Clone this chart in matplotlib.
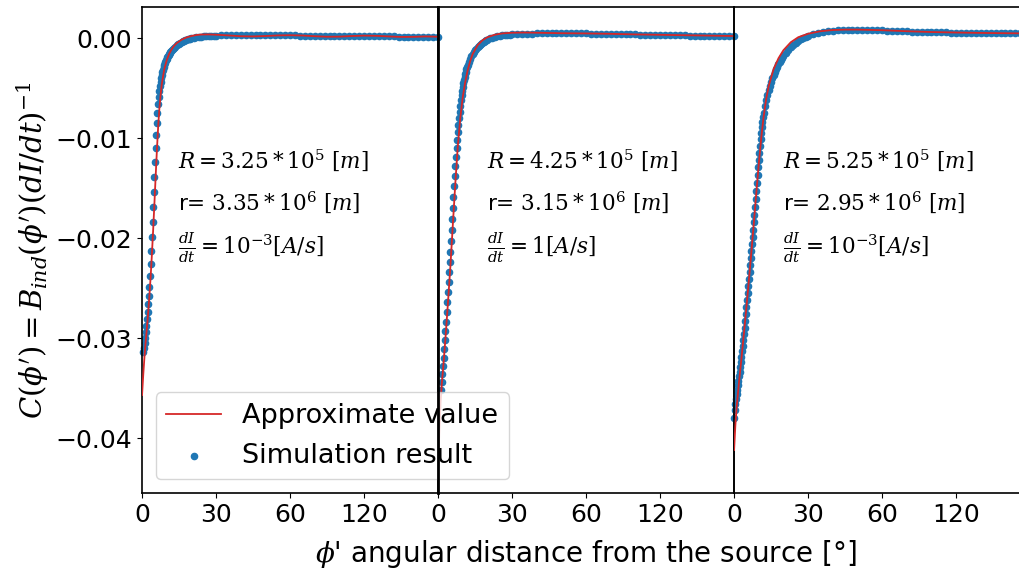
import numpy as np
import matplotlib
matplotlib.use("Agg")
import matplotlib.pyplot as plt
from matplotlib.lines import Line2D

plt.rcParams['mathtext.fontset'] = 'dejavuserif'

nan = np.nan
# sample positions of the simulation (degrees)
phi_sim = np.concatenate([np.arange(0, 12.01, 0.25), np.arange(12.5, 20.01, 0.5),
                          np.arange(21, 30.01, 1), np.arange(32, 120.01, 2)])

# simulation results (units of 1e-3)
sim1 = [nan, nan, -31.4, -31.0, -30.5, -30.0, -29.4, -28.8, -28.1, -27.4, -26.6, -25.8,
        -24.9, -23.8, -22.6, -21.3, -19.9, -18.4, -16.9, -15.4, -13.9, -12.4, -11.0, -9.7,
        -8.5, -7.5, -6.6, -5.9, -5.3, -4.8, -4.4, -4.0, -3.7, -3.4, -3.15, -2.9,
        -2.7, -2.5, -2.35, -2.2, -2.05, -1.9, -1.8, -1.7, -1.6, -1.5, -1.4, -1.3, -1.22,
        -1.08, -0.95, -0.83, -0.72, -0.62, -0.53, -0.45, -0.38, -0.31, -0.25, -0.2, -0.15,
        -0.11, -0.07, -0.04, -0.01,
        0.04, 0.08, 0.12, 0.15, 0.18, 0.2, 0.22, 0.24, 0.25, 0.26,
        0.28, 0.29, 0.3, 0.31, 0.31, 0.31, 0.31, 0.31, 0.31, 0.3, 0.3, 0.3, 0.29, 0.29, 0.28,
        0.28, 0.27, 0.27, 0.26, 0.26, 0.25, 0.25, 0.24, 0.24, 0.23, 0.23, 0.22, 0.22, 0.21,
        0.21, 0.2, 0.2, 0.19, 0.19, 0.18, 0.18, 0.17, 0.17, 0.16, 0.16, 0.15, 0.15, 0.14,
        0.14, 0.13]
sim2 = [nan, nan, nan, nan, nan, -35.2, -34.4, -33.6, -32.8, -32.0, -31.1, -30.2,
        -29.3, -28.4, -27.4, -26.4, -25.4, -24.4, -23.4, -22.4, -21.4, -20.3, -19.2, -18.1,
        -17.0, -15.9, -14.8, -13.8, -12.8, -11.9, -11.0, -10.2, -9.4, -8.7, -8.0, -7.35,
        -6.75, -6.2, -5.7, -5.25, -4.85, -4.5, -4.15, -3.85, -3.6, -3.35, -3.1, -2.9, -2.7,
        -2.35, -2.05, -1.8, -1.58, -1.38, -1.2, -1.04, -0.9, -0.77, -0.65, -0.54, -0.44,
        -0.35, -0.27, -0.2, -0.13,
        -0.02, 0.07, 0.14, 0.2, 0.25, 0.29, 0.32, 0.35, 0.37, 0.39,
        0.42, 0.44, 0.46, 0.47, 0.48, 0.49, 0.49, 0.5, 0.5, 0.5, 0.5, 0.49, 0.49, 0.48, 0.48,
        0.47, 0.46, 0.45, 0.44, 0.43, 0.42, 0.41, 0.4, 0.39, 0.38, 0.37, 0.36, 0.35, 0.34,
        0.33, 0.32, 0.31, 0.3, 0.29, 0.28, 0.27, 0.26, 0.25, 0.25, 0.24, 0.23, 0.22, 0.22,
        0.21, 0.2]
sim3 = [-38.0, -37.2, -36.6, -36.1, -35.6, -35.2, -34.7, -34.3, -33.8, -33.4, -32.9, -32.4,
        -31.9, -31.3, -30.8, -30.2, -29.6, -29.0, -28.3, -27.6, -26.9, -26.2, -25.5, -24.8,
        -24.1, -23.4, -22.7, -22.0, -21.3, -20.6, -19.9, -19.2, -18.4, -17.7, -16.9, -16.1,
        -15.3, -14.5, -13.7, -12.9, -12.2, -11.5, -10.8, -10.1, -9.5, -8.9, -8.4, -7.9, -7.5,
        -6.8, -6.2, -5.7, -5.2, -4.8, -4.4, -4.0, -3.7, -3.4, -3.1, -2.85, -2.6,
        -2.38, -2.17, -1.97, -1.78,
        -1.45, -1.15, -0.88, -0.64, -0.43, -0.25, -0.09, 0.05, 0.17, 0.27,
        0.43, 0.55, 0.64, 0.71, 0.76, 0.8, 0.82, 0.84, 0.85, 0.85, 0.84, 0.83, 0.82, 0.8, 0.78,
        0.76, 0.74, 0.72, 0.7, 0.68, 0.66, 0.65, 0.63, 0.62, 0.61, 0.6, 0.59, 0.58, 0.57,
        0.56, 0.55, 0.55, 0.54, 0.54, 0.53, 0.53, 0.52, 0.52, 0.52, 0.51, 0.51, 0.5, 0.5,
        0.5, 0.5]

# approximate value curves (units of 1e-3)
phi_apx1 = [0, 0.5, 1, 1.5, 2, 2.5, 3, 3.5, 4, 4.5, 5, 5.5, 6, 6.5, 7, 7.5, 8, 9, 10, 11, 12,
            13, 14, 16, 18, 20, 22, 24, 27, 30, 35, 40, 45, 50, 55, 60, 65, 70, 75, 80, 85,
            90, 95, 100, 105, 110, 115, 120]
apx1 = [-35.7, -33.6, -31.8, -30.3, -28.9, -27.4, -25.7, -23.8, -21.6, -19.2, -16.6, -13.9,
        -11.3, -9.0, -7.1, -5.7, -4.6, -3.1, -2.2, -1.55, -1.1, -0.75, -0.5, -0.15, 0.08,
        0.22, 0.32, 0.37, 0.38, 0.35, 0.28, 0.2, 0.18, 0.22, 0.28, 0.3, 0.27, 0.2, 0.15,
        0.16, 0.22, 0.26, 0.24, 0.18, 0.13, 0.14, 0.18, 0.15]
phi_apx2 = [0, 0.5, 1, 1.5, 2, 3, 4, 5, 6, 7, 8, 9, 10, 11, 12, 13, 14, 16, 18, 20, 23, 26,
            30, 35, 40, 50, 60, 70, 80, 90, 100, 110, 120]
apx2 = [-43.5, -39.5, -36.5, -34.6, -33.2, -30.0, -26.5, -22.8, -18.6, -14.5, -10.8, -8.0,
        -5.9, -4.4, -3.2, -2.3, -1.6, -0.7, -0.2, 0.1, 0.35, 0.48, 0.55, 0.57, 0.55, 0.5,
        0.48, 0.44, 0.38, 0.34, 0.3, 0.26, 0.22]
phi_apx3 = [0, 0.5, 1, 2, 3, 4, 5, 6, 7, 8, 9, 10, 11, 12, 13, 14, 16, 18, 20, 23, 26, 30,
            35, 40, 45, 50, 60, 70, 80, 90, 100, 110, 120]
apx3 = [-41.2, -38.8, -37.0, -34.4, -32.0, -29.5, -26.9, -24.2, -21.4, -18.5, -15.5, -12.6,
        -10.0, -7.8, -6.1, -4.8, -3.1, -2.0, -1.2, -0.4, 0.1, 0.45, 0.7, 0.82, 0.86, 0.86,
        0.8, 0.7, 0.62, 0.57, 0.53, 0.5, 0.48]

notes = [
    (14.6, ["$R = 3.25 * 10^5\\ [m]$", "r= $3.35 * 10^6\\ [m]$", "$\\frac{dI}{dt} = 10^{-3}[A/s]$"]),
    (20.0, ["$R = 4.25 * 10^5\\ [m]$", "r= $3.15 * 10^6\\ [m]$", "$\\frac{dI}{dt} = 1[A/s]$"]),
    (20.0, ["$R = 5.25 * 10^5\\ [m]$", "r= $2.95 * 10^6\\ [m]$", "$\\frac{dI}{dt} = 10^{-3}[A/s]$"]),
]
note_y = [-0.0122, -0.0164, -0.0210]

xticks = [0, 30, 60, 90]
xticklabels = ['0', '30', '60', '120']
yticks = [-0.04, -0.03, -0.02, -0.01, 0.0]

sims = [sim1, sim2, sim3]
apxs = [(phi_apx1, apx1), (phi_apx2, apx2), (phi_apx3, apx3)]

fig = plt.figure(figsize=(10.19, 5.79), dpi=100)
left0, w, b, h = 0.1394, 0.2905, 0.1485, 0.839
axes = []
for i in range(3):
    ax = fig.add_axes([left0 + i * w, b, w, h])
    axes.append(ax)
    assert len(sims[i]) == len(phi_sim)
    ax.scatter(phi_sim, np.array(sims[i]) * 1e-3, s=20, color='#1f77b4', zorder=2,
               clip_on=False, label='Simulation result')
    px, py = apxs[i]
    ax.plot(px, np.array(py) * 1e-3, color='#d62728', lw=1.3, zorder=3,
            label='Approximate value')
    ax.set_xlim(0, 120)
    ax.set_ylim(-0.0455, 0.0031)
    ax.set_xticks(xticks)
    ax.set_xticklabels(xticklabels)
    ax.tick_params(axis='both', labelsize=18)
    for sp in ax.spines.values():
        sp.set_linewidth(1.2)
        sp.set_color('black')
    xt, lines = notes[i]
    for yy, txt in zip(note_y, lines):
        ax.text(xt, yy, txt, fontsize=15.5, va='center', ha='left')
    ax.set_yticks(yticks)
    if i == 0:
        ax.set_ylabel("$C(\\phi') = B_{ind}(\\phi')(dI/dt)^{-1}$", fontsize=21, labelpad=3)
    else:
        ax.tick_params(axis='y', left=False, labelleft=False)
    if i == 1:
        ax.set_xlabel("$\\phi$' angular distance from the source [°]", fontsize=20, labelpad=8)
    if i > 0:
        ax.set_facecolor('none')

ax1 = axes[0]
ax1.set_zorder(5)
handles, labels = ax1.get_legend_handles_labels()
order = [labels.index('Approximate value'), labels.index('Simulation result')]
ax1.legend([handles[k] for k in order], [labels[k] for k in order], loc='lower left',
           fontsize=19.5, scatterpoints=1, framealpha=0.8)

# panel separator redrawn above the legend, as in the original
sep = Line2D([left0 + w, left0 + w], [b, b + h], transform=fig.transFigure,
             color='black', lw=2.0, zorder=20)
fig.add_artist(sep)

fig.savefig('out.png', dpi=100)
